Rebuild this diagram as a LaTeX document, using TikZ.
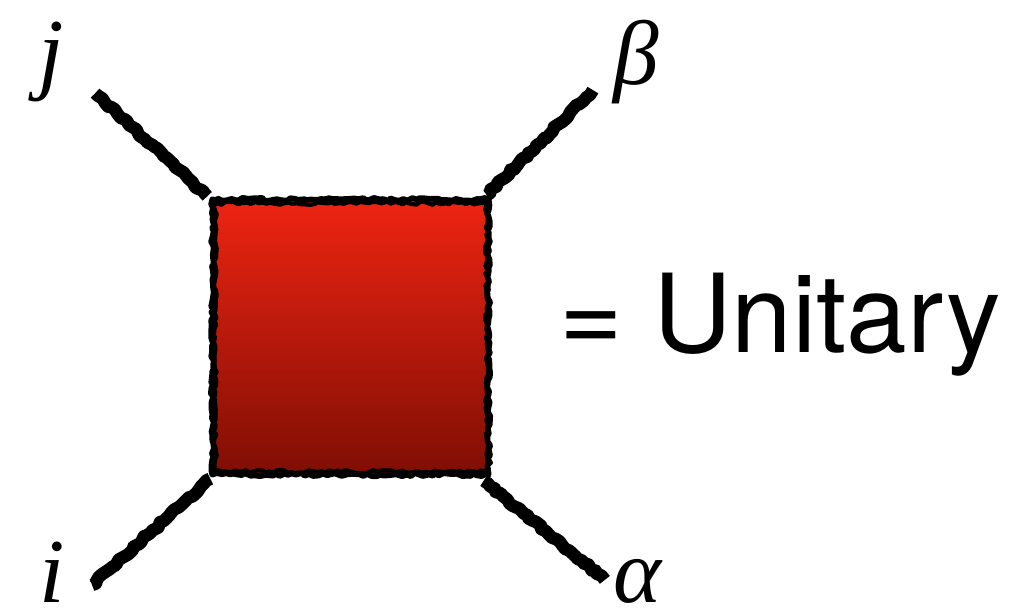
\documentclass[tikz,border=0pt]{standalone}
\usepackage{fontspec}
\setsansfont{TeX Gyre Heros}
\newfontfamily\idxfont{Liberation Serif}
\usepackage{tikz}
\usetikzlibrary{positioning, decorations.pathmorphing}
\definecolor{gatetop}{RGB}{238,36,18}
\definecolor{gatebottom}{RGB}{128,14,4}

\tikzset{
    rough/.style={decorate, decoration={random steps, segment length=1.2pt, amplitude=0.45pt}, line join=round},
    leg/.style={line width=3.6pt, black, rough},
    idx/.style={anchor=base, inner sep=0, font=\idxfont\itshape\fontsize{26}{30}\selectfont}
}

\begin{document}
\begin{tikzpicture}
    \useasboundingbox (0,0) rectangle (10.15,6.15);
    % the gate
    \node[minimum width=2.75cm, minimum height=2.74cm, inner sep=0,
          top color=gatetop, bottom color=gatebottom] (gate) at (3.505,2.78) {};
    \draw[line width=1.6pt, rough] (gate.north west) rectangle (gate.south east);
    \draw[line width=1.2pt, rough] ([shift={(0.03,-0.04)}]gate.north west) rectangle ([shift={(-0.02,0.03)}]gate.south east);
    % leg ends
    \coordinate (tl) at (0.95,5.22);
    \coordinate (tr) at (5.93,5.25);
    \coordinate (bl) at (0.92,0.30);
    \coordinate (br) at (6.05,0.35);
    \draw[leg] ([shift={(-0.05,0.03)}]gate.north west) -- (tl);
    \draw[leg] ([shift={(-0.02,0.04)}]gate.north east) -- (tr);
    \draw[leg] ([shift={(-0.02,-0.04)}]gate.south west) -- (bl);
    \draw[leg] ([shift={(-0.05,-0.06)}]gate.south east) -- (br);
    % indices
    \node[idx] (j) at (0.51,5.32) {j};
    \node[idx] (beta) at (6.36,5.30) {β};
    \node[idx, text depth=0pt] (i) at (0.52,0.12) {i};
    \node[idx, text depth=0pt] (alpha) at (6.37,0.12) {α};
    \node[anchor=base west, inner sep=0, font=\sffamily\fontsize{31}{34}\selectfont] (unitary) at (5.59,2.62) {= Unitary};
\end{tikzpicture}
\end{document}
